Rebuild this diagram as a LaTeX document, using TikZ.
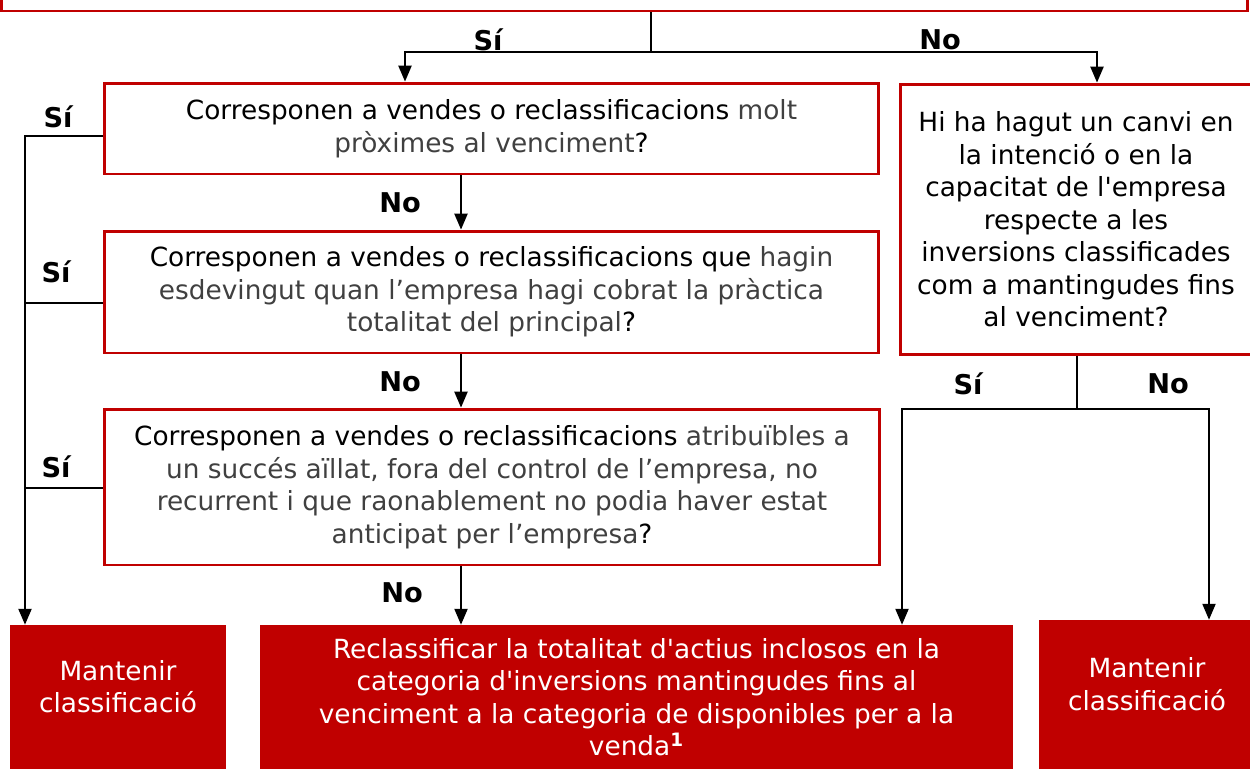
\documentclass[tikz,border=0pt]{standalone}
\usepackage{fontspec}
\setmainfont{DejaVu Sans}
\usepackage{tikz}
\usetikzlibrary{arrows.meta}
\definecolor{vermell}{RGB}{192,0,0}
\definecolor{gris}{RGB}{64,64,64}

\begin{document}
\begin{tikzpicture}
        [x=0.02cm, y=-0.02cm,
        font=\fontsize{15}{18.5}\selectfont,
        pregunta/.style={rectangle, draw=vermell, line width=1.7pt, fill=white, align=center, inner sep=0pt},
        resultat/.style={rectangle, fill=vermell, text=white, align=center, inner sep=0pt},
        etiq/.style={font=\fontsize{15.5}{18}\selectfont\bfseries},
        linia/.style={line width=0.8pt},
        arr/.style={-{Triangle[width=7.5pt,length=9pt]}, line width=0.8pt}]
        \useasboundingbox (0,0) rectangle (1250,769);
        % preguntes
        \node (inici) at (624.5,-39) [pregunta, minimum width=24.94cm, minimum height=2cm] {};
        \node (q1) at (491.5,128.5) [pregunta, minimum width=15.5cm, minimum height=1.82cm]
           {Corresponen a vendes o reclassificacions \textcolor{gris}{molt}\\
            \textcolor{gris}{pròximes al venciment}?};
        \node (q2) at (491.5,292) [pregunta, minimum width=15.5cm, minimum height=2.44cm]
           {Corresponen a vendes o reclassificacions que \textcolor{gris}{hagin}\\
            \textcolor{gris}{esdevingut quan l’empresa hagi cobrat la pràctica}\\
            \textcolor{gris}{totalitat del principal}?};
        \node (q3) at (492,487) [pregunta, minimum width=15.52cm, minimum height=3.12cm]
           {Corresponen a vendes o reclassificacions \textcolor{gris}{atribuïbles a}\\
            \textcolor{gris}{un succés aïllat, fora del control de l’empresa, no}\\
            \textcolor{gris}{recurrent i que raonablement no podia haver estat}\\
            \textcolor{gris}{anticipat per l’empresa}?};
        \node (qr) at (1076,219.5) [pregunta, minimum width=7.04cm, minimum height=5.42cm]
           {Hi ha hagut un canvi en\\la intenció o en la\\capacitat de l\textquotesingle empresa\\
            respecte a les\\inversions classificades\\com a mantingudes fins\\al venciment?};
        % resultats
        \node (mant1) at (118,697) [resultat, minimum width=4.32cm, minimum height=2.88cm]
           {Mantenir\\classificació\\[-0.22cm]\mbox{}};
        \node (reclas) at (636.5,697) [resultat, minimum width=15.06cm, minimum height=2.88cm]
           {Reclassificar la totalitat d\textquotesingle actius inclosos en la\\
            categoria d\textquotesingle inversions mantingudes fins al\\
            venciment a la categoria de disponibles per a la\\
            venda\textsuperscript{\textbf{1}}};
        \node (mant2) at (1147,694.5) [resultat, minimum width=4.32cm, minimum height=2.98cm]
           {Mantenir\\classificació\\[-0.22cm]\mbox{}};
        % connexions
        \coordinate (bif) at (651,52);
        \coordinate (tronc) at (25,0);
        \coordinate (bif2) at (1077,409);
        \draw[linia] (inici.south -| bif) -- (bif);
        \draw[arr] (bif) -| (q1.north -| 405,0);
        \draw[arr] (bif) -| (qr.north -| 1097,0);
        \draw[arr] (q1.south -| 461,0) -- (q2.north -| 461,0);
        \draw[arr] (q2.south -| 461,0) -- (q3.north -| 461,0);
        \draw[arr] (q3.south -| 461,0) -- (reclas.north -| 461,0);
        \draw[arr] (q1.west |- 0,136) -| (mant1.north -| tronc);
        \draw[linia] (q2.west |- 0,303) -- (tronc |- 0,303);
        \draw[linia] (q3.west |- 0,488) -- (tronc |- 0,488);
        \draw[linia] (qr.south -| bif2) -- (bif2);
        \draw[arr] (bif2) -| (reclas.north -| 902,0);
        \draw[arr] (bif2) -| (mant2.north -| 1209,0);
        % etiquetes
        \node[etiq] (si0) at (488,40) {Sí};
        \node[etiq] (no0) at (940,40) {No};
        \node[etiq] (no1) at (400,203) {No};
        \node[etiq] (no2) at (400,382) {No};
        \node[etiq] (no3) at (402,593) {No};
        \node[etiq] (si1) at (58,117) {Sí};
        \node[etiq] (si2) at (56,272) {Sí};
        \node[etiq] (si3) at (56,467) {Sí};
        \node[etiq] (si4) at (968,384) {Sí};
        \node[etiq] (no4) at (1168,384) {No};
\end{tikzpicture}
\end{document}
